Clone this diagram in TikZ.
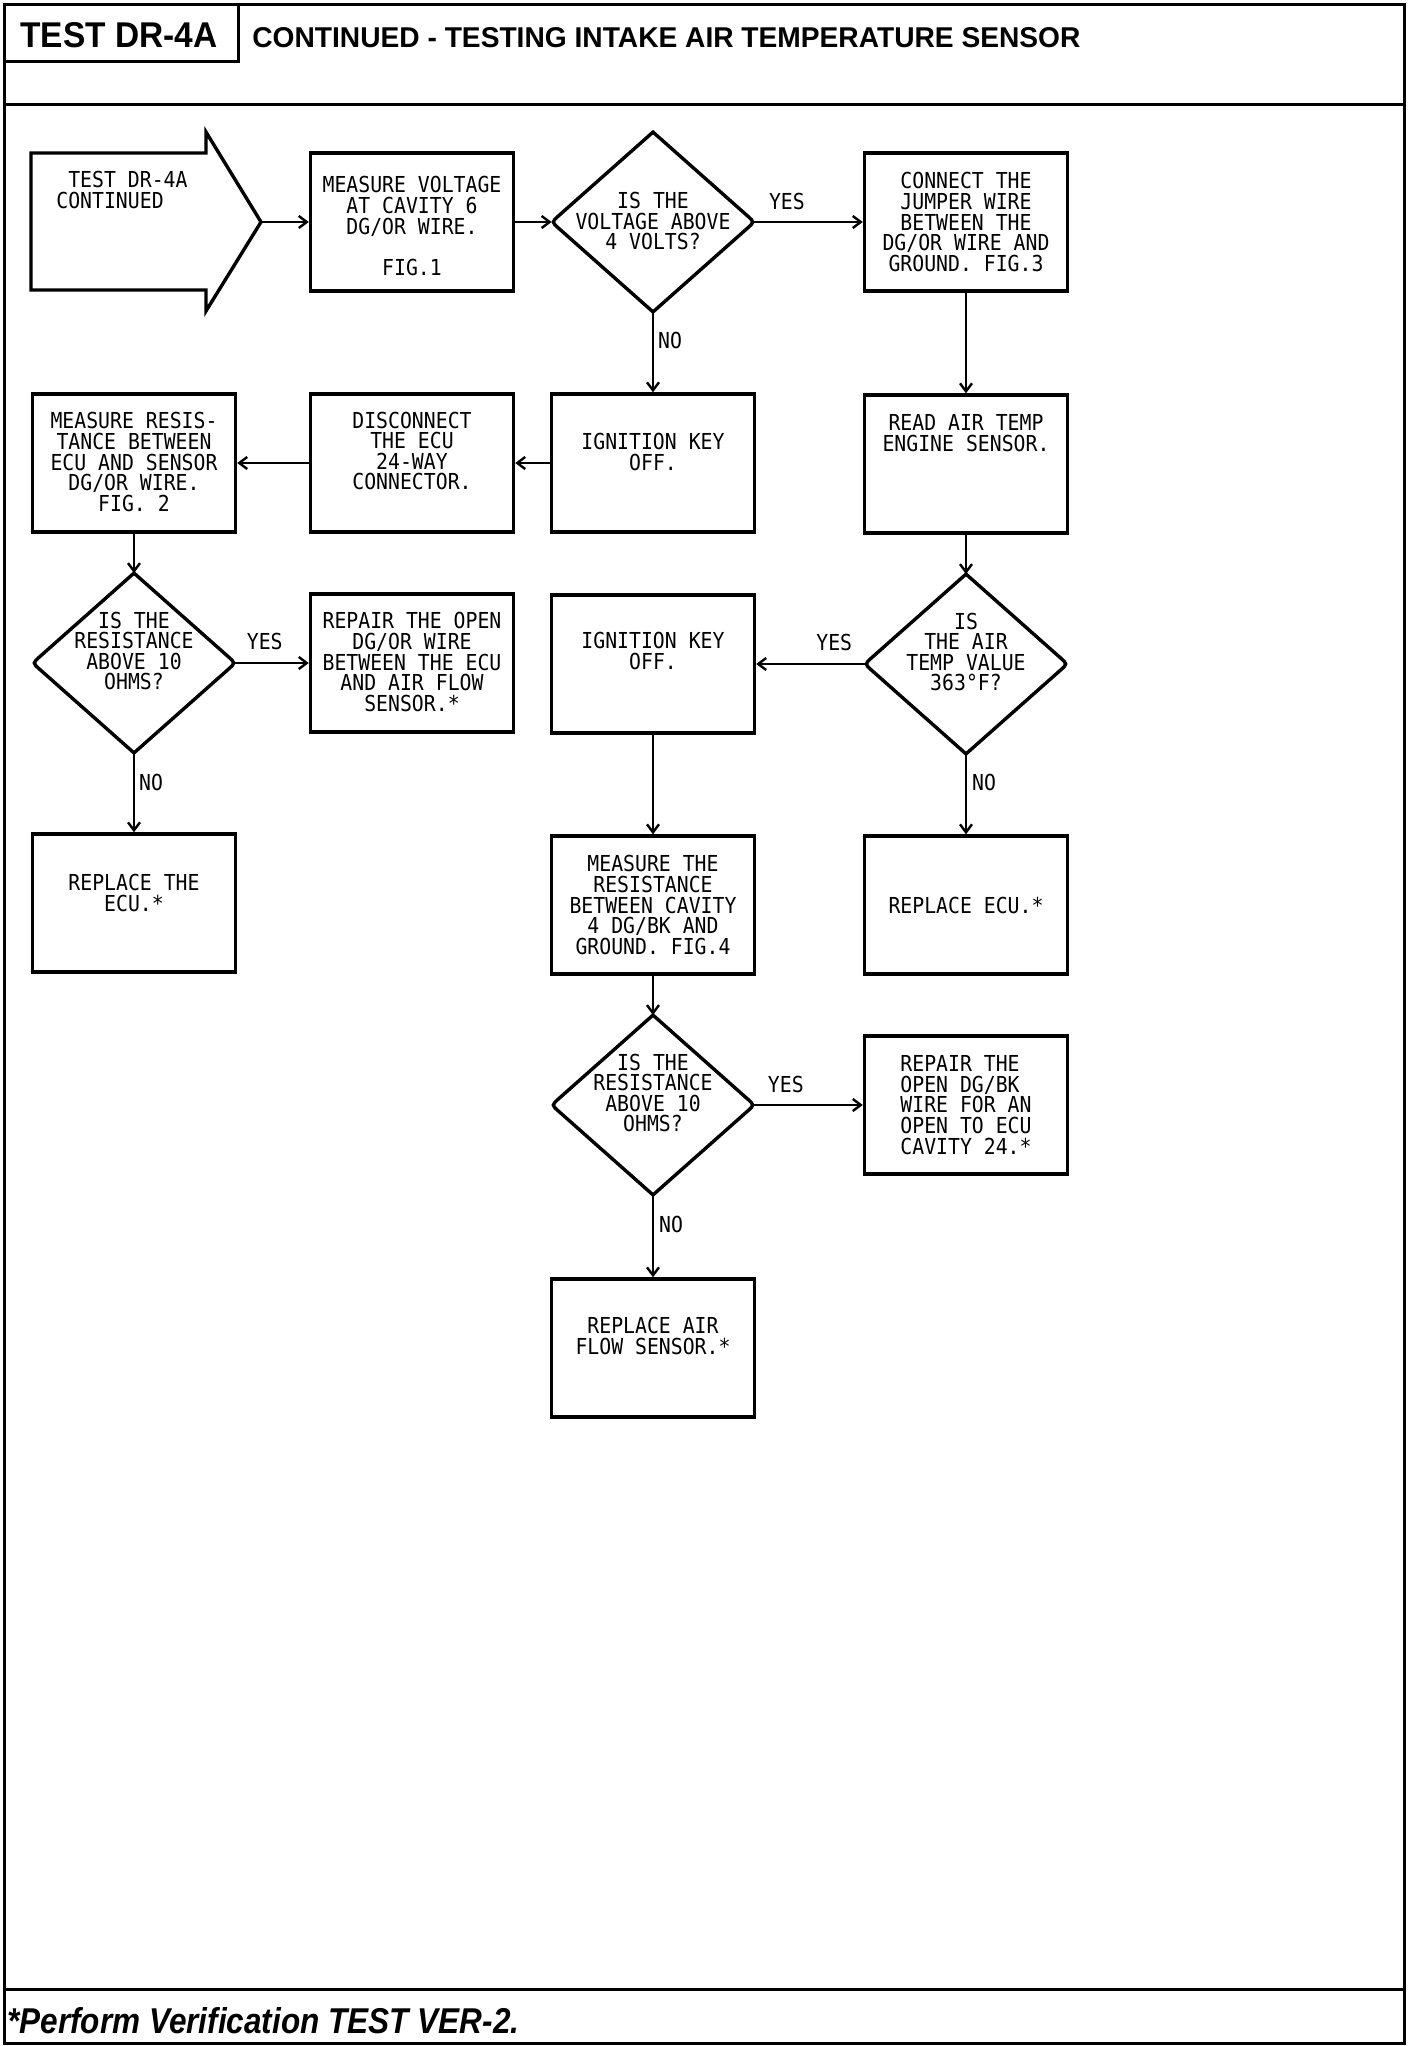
\documentclass[tikz,border=0pt]{standalone}
\usepackage{fontspec}
\usepackage{graphicx}
\setmainfont{Liberation Sans}
\newfontfamily\plotfont[FakeStretch=0.9]{DejaVu Sans Mono}
\usetikzlibrary{arrows.meta,calc,shapes.geometric}
\tikzset{
  frame/.style={line width=1.5pt},
  box/.style={draw, line width=1.7pt, minimum width=101.5pt, minimum height=69pt, inner sep=0pt},
  dia/.style={shape=diamond, minimum width=101pt, minimum height=89.5pt, inner sep=0pt},
  txt/.style={font=\plotfont\fontsize{11}{10.3}\selectfont, align=center, inner sep=0pt},
  lbl/.style={font=\plotfont\fontsize{11}{10.3}\selectfont, inner sep=0pt},
  conn/.style={line width=1.2pt, -{Straight Barb[length=4pt,width=6pt]}},
}
\newcommand\diaoutline[1]{%
  \draw[line width=1.7pt, line join=miter] (#1.north) -- ($(#1.east)!0.07!(#1.north)$)
    .. controls (#1.east) .. ($(#1.east)!0.07!(#1.south)$) -- (#1.south)
    -- ($(#1.west)!0.07!(#1.south)$) .. controls (#1.west) .. ($(#1.west)!0.07!(#1.north)$) -- cycle;}
\begin{document}
\begin{tikzpicture}[x=0.5pt,y=-0.5pt]
\useasboundingbox (0,0) rectangle (1408,2046);
% frame
\draw[frame] (4,4) rectangle (1404,2043);
\draw[frame] (4,61) -- (238,61) -- (238,4);
\draw[frame] (4,104) -- (1404,104);
\draw[frame] (4,1989) -- (1404,1989);
\node[anchor=base west, inner sep=0pt] (hdra) at (20,47) {\resizebox{98.5pt}{12.5pt}{\bfseries TEST DR-4A}};
\node[anchor=base west, inner sep=0pt] (hdrb) at (252,47) {\resizebox{414pt}{10pt}{\bfseries CONTINUED - TESTING INTAKE AIR TEMPERATURE SENSOR}};
\node[anchor=base west, inner sep=0pt] (foot) at (7,2033) {\resizebox{256pt}{13pt}{\bfseries\itshape *Perform Verification TEST VER-2.}};

% start arrow
\draw[line width=1.7pt] (31,153) -- (206,153) -- (206,132) -- (261,222) -- (206,311) -- (206,290) -- (31,290) -- cycle;
\coordinate (st) at (261,222);
\node[txt, align=left, anchor=north west] (sttxt) at (56,171) {\hphantom{C}TEST DR-4A\\CONTINUED};

% boxes
\node[box] (mv) at (412,222) {};
\node[txt] (mvt) at (412,226) {MEASURE VOLTAGE\\AT CAVITY 6\\DG/OR WIRE.\\[10.3pt]FIG.1};
\node[box] (cj) at (966,222) {};
\node[txt] (cjt) at (966,222) {CONNECT THE\\JUMPER WIRE\\BETWEEN THE\\DG/OR WIRE AND\\GROUND. FIG.3};
\node[box] (ik1) at (653,463) {};
\node[txt] (ik1t) at (653,452) {IGNITION KEY\\OFF.};
\node[box] (rat) at (966,464) {};
\node[txt] (ratt) at (966,433) {READ AIR TEMP\\ENGINE SENSOR.};
\node[box] (dis) at (412,463) {};
\node[txt] (dist) at (412,451) {DISCONNECT\\THE ECU\\24-WAY\\CONNECTOR.};
\node[box] (mrb) at (134,463) {};
\node[txt] (mrbt) at (134,462) {MEASURE RESIS-\\TANCE BETWEEN\\ECU AND SENSOR\\DG/OR WIRE.\\FIG. 2};
\node[box] (rop) at (412,663) {};
\node[txt] (ropt) at (412,662) {REPAIR THE OPEN\\DG/OR WIRE\\BETWEEN THE ECU\\AND AIR FLOW\\SENSOR.*};
\node[box] (recu) at (134,903) {};
\node[txt] (recut) at (134,893) {REPLACE THE\\ECU.*};
\node[box] (ik2) at (653,664) {};
\node[txt] (ik2t) at (653,651) {IGNITION KEY\\OFF.};
\node[box] (mtr) at (653,905) {};
\node[txt] (mtrt) at (653,905) {MEASURE THE\\RESISTANCE\\BETWEEN CAVITY\\4 DG/BK AND\\GROUND. FIG.4};
\node[box] (recu2) at (966,905) {};
\node[txt] (recu2t) at (966,905) {REPLACE ECU.*};
\node[box] (rop2) at (966,1105) {};
\node[txt, align=left] (rop2t) at (966,1105) {REPAIR THE\\OPEN DG/BK\\WIRE FOR AN\\OPEN TO ECU\\CAVITY 24.*};
\node[box] (raf) at (653,1348) {};
\node[txt] (raft) at (653,1336) {REPLACE AIR\\FLOW SENSOR.*};

% diamonds
\node[dia] (d1) at (653,222) {};
\diaoutline{d1}
\node[txt] (d1t) at (653,221) {IS THE\\VOLTAGE ABOVE\\4 VOLTS?};
\node[dia] (d2) at (134,663) {};
\diaoutline{d2}
\node[txt] (d2t) at (134,651) {IS THE\\RESISTANCE\\ABOVE 10\\OHMS?};
\node[dia] (d3) at (966,664) {};
\diaoutline{d3}
\node[txt] (d3t) at (966,652) {IS\\THE AIR\\TEMP VALUE\\363°F?};
\node[dia] (d4) at (653,1105) {};
\diaoutline{d4}
\node[txt] (d4t) at (653,1093) {IS THE\\RESISTANCE\\ABOVE 10\\OHMS?};

% connectors
\draw[conn] (st) -- (mv.west);
\draw[conn] (mv.east) -- (d1.west);
\draw[conn] (d1.east) -- node[lbl, pos=0.3, yshift=10.5pt] {YES} (cj.west);
\draw[conn] (d1.south) -- node[lbl, pos=0.35, xshift=8.5pt] {NO} (ik1.north);
\draw[conn] (cj.south) -- (rat.north);
\draw[conn] (ik1.west) -- (dis.east);
\draw[conn] (dis.west) -- (mrb.east);
\draw[conn] (mrb.south) -- (d2.north);
\draw[conn] (d2.east) -- node[lbl, pos=0.4, yshift=11pt] {YES} (rop.west);
\draw[conn] (d2.south) -- node[lbl, pos=0.37, xshift=8.5pt] {NO} (recu.north);
\draw[conn] (rat.south) -- (d3.north);
\draw[conn] (d3.west) -- node[lbl, pos=0.28, yshift=11pt] {YES} (ik2.east);
\draw[conn] (d3.south) -- node[lbl, pos=0.36, xshift=9pt] {NO} (recu2.north);
\draw[conn] (ik2.south) -- (mtr.north);
\draw[conn] (mtr.south) -- (d4.north);
\draw[conn] (d4.east) -- node[lbl, pos=0.29, yshift=10.5pt] {YES} (rop2.west);
\draw[conn] (d4.south) -- node[lbl, pos=0.36, xshift=9pt] {NO} (raf.north);
\end{tikzpicture}
\end{document}
